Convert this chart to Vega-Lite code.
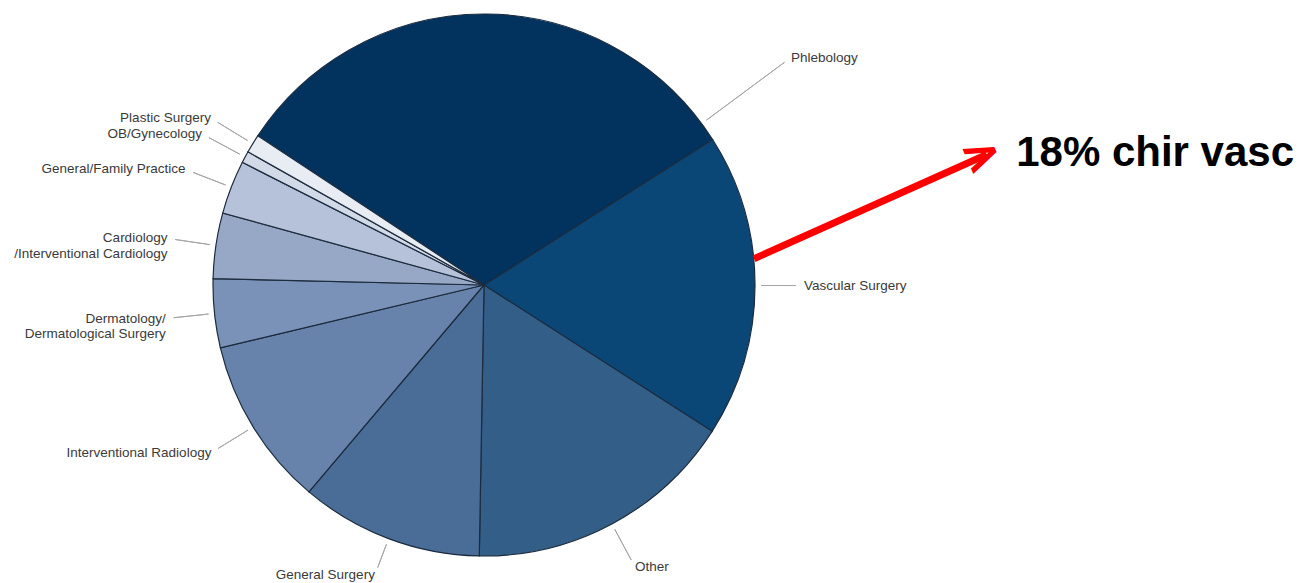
{
  "$schema": "https://vega.github.io/schema/vega-lite/v6.json",
  "width": 968,
  "height": 570,
  "autosize": {"type": "none"},
  "padding": {"left": 0, "top": 0, "right": 331, "bottom": 13},
  "background": "white",
  "config": {"view": {"stroke": null}, "text": {"font": "Liberation Sans"}},
  "data": {
    "values": [
      {"specialty": "Phlebology", "pct": 31.7, "rank": 1, "note": ""},
      {"specialty": "Vascular Surgery", "pct": 18.1, "rank": 2, "note": "18% chir vasc"},
      {"specialty": "Other", "pct": 16.2, "rank": 3, "note": ""},
      {"specialty": "General Surgery", "pct": 10.9, "rank": 4, "note": ""},
      {"specialty": "Interventional Radiology", "pct": 10.1, "rank": 5, "note": ""},
      {"specialty": "Dermatology/\nDermatological Surgery", "pct": 4.1, "rank": 6, "note": ""},
      {"specialty": "Cardiology\n/Interventional Cardiology", "pct": 3.9, "rank": 7, "note": ""},
      {"specialty": "General/Family Practice", "pct": 3.2, "rank": 8, "note": ""},
      {"specialty": "OB/Gynecology", "pct": 0.7, "rank": 9, "note": ""},
      {"specialty": "Plastic Surgery", "pct": 1.1, "rank": 10, "note": ""}
    ]
  },
  "encoding": {
    "theta": {"field": "pct", "type": "quantitative", "stack": true, "scale": {"domain": [0, 100], "range": [-0.9879, 5.2953]}},
    "order": {"field": "rank", "type": "quantitative", "sort": "ascending"}
  },
  "layer": [
    {
      "mark": {"type": "arc", "radius": 271, "stroke": "#1c2b3d", "strokeWidth": 1.2},
      "encoding": {
        "color": {
          "field": "specialty",
          "type": "nominal",
          "legend": null,
          "scale": {
            "domain": ["Phlebology", "Vascular Surgery", "Other", "General Surgery", "Interventional Radiology", "Dermatology/\nDermatological Surgery", "Cardiology\n/Interventional Cardiology", "General/Family Practice", "OB/Gynecology", "Plastic Surgery"],
            "range": ["#02335f", "#0a4676", "#335e88", "#4a6d97", "#6783ab", "#7a92b8", "#97a8c7", "#b6c2da", "#d3dae7", "#e8ecf3"]
          }
        }
      }
    },
    {
      "mark": {
        "type": "arc",
        "radius": {"expr": "min(320, 290 / max(0.01, abs(cos(scale('theta', 0.5 * datum.pct_start + 0.5 * datum.pct_end))))) - 8"},
        "radius2": 277,
        "padAngle": 3,
        "fill": "transparent",
        "strokeWidth": 1
      },
      "encoding": {
        "stroke": {"condition": {"test": "datum.specialty !== 'Phlebology'", "value": "#a6a6a6"}, "value": "transparent"}
      }
    },
    {
      "mark": {"type": "arc", "radius": 374, "radius2": 277, "padAngle": 3, "thetaOffset": 0.925, "fill": "transparent", "strokeWidth": 1},
      "encoding": {
        "stroke": {"condition": {"test": "datum.specialty === 'Phlebology'", "value": "#a6a6a6"}, "value": "transparent"}
      }
    },
    {
      "mark": {
        "type": "text",
        "radius": {"expr": "min(320, 290 / max(0.01, abs(cos(scale('theta', 0.5 * datum.pct_start + 0.5 * datum.pct_end)))))"},
        "fontSize": 13.5,
        "color": "#3a3a3a",
        "lineBreak": "\n",
        "baseline": "middle",
        "align": {"expr": "sin(scale('theta', 0.5 * datum.pct_start + 0.5 * datum.pct_end)) > 0 ? 'left' : 'right'"}
      },
      "encoding": {
        "text": {"condition": {"test": "datum.specialty === 'Phlebology'", "value": ""}, "field": "specialty", "type": "nominal"}
      }
    },
    {
      "mark": {"type": "text", "radius": 382, "thetaOffset": 0.925, "fontSize": 13.5, "color": "#3a3a3a", "baseline": "middle", "align": "left"},
      "encoding": {
        "text": {"condition": {"test": "datum.specialty !== 'Phlebology'", "value": ""}, "field": "specialty", "type": "nominal"}
      }
    },
    {
      "mark": {"type": "arc", "radius": 530, "radius2": 275, "padAngle": 3, "thetaOffset": -0.4224, "xOffset": 19, "yOffset": 86, "fill": "transparent", "strokeWidth": 7},
      "encoding": {
        "stroke": {"condition": {"test": "datum.note !== ''", "value": "#ff0000"}, "value": "transparent"}
      }
    },
    {
      "mark": {"type": "text", "radius": 545, "thetaOffset": -0.4224, "xOffset": 19, "yOffset": 86, "angle": -23.5, "fontSize": 48, "fontWeight": "bold", "font": "DejaVu Sans", "color": "#ff0000", "align": "right", "baseline": "middle"},
      "encoding": {
        "text": {"condition": {"test": "datum.note !== ''", "value": ">"}, "value": ""}
      }
    },
    {
      "mark": {"type": "text", "radius": 684, "thetaOffset": -0.196, "fontSize": 42, "fontWeight": "bold", "color": "#000000", "align": "center", "baseline": "middle"},
      "encoding": {
        "text": {"field": "note", "type": "nominal"}
      }
    }
  ]
}
